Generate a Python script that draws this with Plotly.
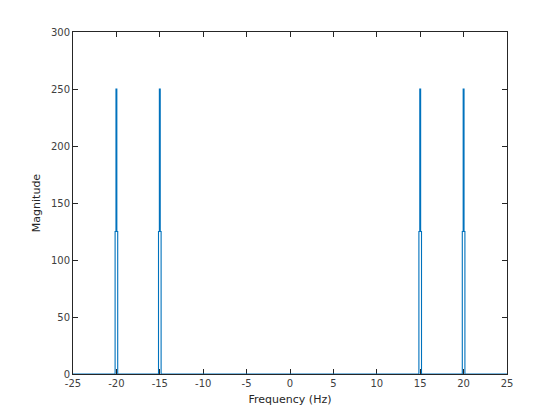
import plotly.graph_objects as go

# spectrum bins around the four peaks (Hz) and their magnitudes
freq = [-25, -20.2, -20.1, -20.0, -19.9, -19.8,
        -15.2, -15.1, -15.0, -14.9, -14.8,
        14.8, 14.9, 15.0, 15.1, 15.2,
        19.8, 19.9, 20.0, 20.1, 20.2, 25]
mag = [0, 0, 125, 250, 125, 0,
       0, 125, 250, 125, 0,
       0, 125, 250, 125, 0,
       0, 125, 250, 125, 0, 0]

x_ticks = [-25, -20, -15, -10, -5, 0, 5, 10, 15, 20, 25]
x_labels = ['-25', '-20', '-15', '-10', '-5', '0', '5', '10', '15', '20', '25']
y_ticks = [0, 50, 100, 150, 200, 250, 300]

axis_col = '#262626'

fig = go.Figure()
fig.add_trace(go.Scatter(x=freq, y=mag, mode='lines',
                         line=dict(color='#0072BD', width=1.1, shape='hvh'),
                         showlegend=False))

axis_style = dict(showline=True, linecolor=axis_col, linewidth=1, mirror='ticks',
                  ticks='inside', ticklen=5, tickcolor=axis_col, tickwidth=1,
                  showgrid=False, zeroline=False, layer='below traces',
                  tickfont=dict(family='DejaVu Sans', size=10, color='#404040'))

fig.update_xaxes(range=[-25, 25], tickvals=x_ticks, ticktext=x_labels, **axis_style,
                 title=dict(text='Frequency (Hz)', standoff=7,
                            font=dict(family='DejaVu Sans', size=11, color=axis_col)))
fig.update_yaxes(range=[0, 300], tickvals=y_ticks, **axis_style,
                 title=dict(text='Magnitude', standoff=8,
                            font=dict(family='DejaVu Sans', size=11, color=axis_col)))

# page body adds an 8px offset, so margins are shifted to compensate
fig.update_layout(width=560, height=420, plot_bgcolor='white', paper_bgcolor='white',
                  margin=dict(l=65, r=61, t=24, b=54))

fig.write_html("out.html")
